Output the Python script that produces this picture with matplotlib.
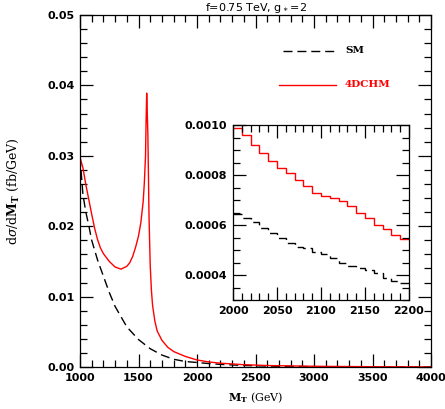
import numpy as np
import matplotlib.pyplot as plt
from matplotlib.ticker import MultipleLocator

plt.rcParams['mathtext.fontset'] = 'dejavuserif'

# main panel (GeV, fb/GeV)
mt_sm = [1000, 1025, 1050, 1075, 1100, 1150, 1200, 1250, 1300, 1400, 1500,
         1600, 1700, 1800, 1900, 2000, 2100, 2200, 2400, 2600, 3000, 3500, 4000]
xs_sm = [0.0298, 0.0245, 0.0220, 0.0201, 0.0180, 0.0152, 0.0129, 0.0106, 0.0086,
         0.0057, 0.0039, 0.0026, 0.0017, 0.0011, 0.00078, 0.00064, 0.00049,
         0.00037, 0.00022, 0.00013, 0.00005, 0.00001, 0.0]

mt_4d = [1000, 1025, 1050, 1075, 1100, 1125, 1150, 1175, 1200, 1250, 1300, 1350,
         1400, 1425, 1450, 1475, 1500, 1520, 1540, 1550, 1560, 1565, 1570, 1580,
         1590, 1600, 1610, 1620, 1640, 1660, 1700, 1750, 1800, 1900, 2000, 2100,
         2200, 2400, 2600, 3000, 3500, 4000]
xs_4d = [0.0298, 0.0283, 0.0259, 0.0238, 0.0217, 0.0197, 0.0181, 0.0169, 0.0161,
         0.0150, 0.0142, 0.0139, 0.0143, 0.0148, 0.0157, 0.0170, 0.0186, 0.0205,
         0.0235, 0.0262, 0.0300, 0.0350, 0.0389, 0.0332, 0.0213, 0.0145, 0.0110,
         0.0088, 0.0065, 0.0051, 0.0038, 0.0028, 0.0022, 0.0015, 0.0010, 0.00072,
         0.00054, 0.00033, 0.00021, 0.0001, 0.00004, 0.00001]

# inset, 10 GeV bins
edges = np.arange(2000, 2201, 10)
h_4d = [0.00099, 0.00096, 0.00092, 0.00089, 0.000857, 0.00083, 0.000807, 0.000779,
        0.000756, 0.00073, 0.000716, 0.000707, 0.000696, 0.000676, 0.00065,
        0.000627, 0.0006, 0.000583, 0.00056, 0.000543]
h_sm = [0.000643, 0.000627, 0.000613, 0.000587, 0.00057, 0.00055, 0.000527,
        0.000513, 0.000507, 0.000493, 0.000484, 0.000467, 0.000447, 0.000437,
        0.000427, 0.00042, 0.000407, 0.000387, 0.000376, 0.00037]

dash = (6.5, 3.5)

def style(ax, xmaj, xmin, ymaj, ymin, yfmt):
    ax.xaxis.set_major_locator(MultipleLocator(xmaj))
    ax.xaxis.set_minor_locator(MultipleLocator(xmin))
    ax.yaxis.set_major_locator(MultipleLocator(ymaj))
    ax.yaxis.set_minor_locator(MultipleLocator(ymin))
    ax.yaxis.set_major_formatter(plt.FormatStrFormatter(yfmt))
    ax.tick_params(which='both', direction='in', top=True, right=True, width=0.9)
    ax.tick_params(which='major', length=9.5, pad=4)
    ax.tick_params(which='minor', length=5)
    for lab in ax.get_xticklabels() + ax.get_yticklabels():
        lab.set_fontsize(8)
        lab.set_fontweight('bold')
    for s in ax.spines.values():
        s.set_linewidth(0.9)

fig = plt.figure(figsize=(4.45, 4.09), dpi=100)
ax = fig.add_axes([80/445, 1-367/409, 351/445, 352/409])
ax.plot(mt_sm, xs_sm, color='black', lw=1.0, dashes=dash)
ax.plot(mt_4d, xs_4d, color='red', lw=1.0)
ax.set_xlim(1000, 4000)
ax.set_ylim(0, 0.05)
style(ax, 500, 100, 0.01, 0.002, '%.2f')
ax.set_xlabel(r'$\mathbf{M_T}$ (GeV)', family='DejaVu Serif', fontsize=8, labelpad=6)
ax.set_ylabel(r'd$\sigma$/d$\mathbf{M_T}$ (fb/GeV)', family='DejaVu Serif', fontsize=9, labelpad=19)
ax.set_title(r'f=0.75 TeV, g$_\ast$=2', fontsize=8, pad=3)

# legend drawn by hand
ax.plot([2735, 3205], [0.0449, 0.0449], color='black', lw=1.0, dashes=dash)
ax.text(3265, 0.0449, 'SM', family='DejaVu Serif', fontweight='bold', fontsize=7.5, va='center')
ax.plot([2700, 3190], [0.0401, 0.0401], color='red', lw=1.0)
ax.text(3265, 0.0401, '4DCHM', family='DejaVu Serif', fontweight='bold', fontsize=7.5,
        va='center', color='red')

ins = fig.add_axes([233/445, 1-300/409, 176/445, 175/409])
ins.stairs(h_4d, edges, color='red', lw=1.0, baseline=None)
ins.stairs(h_sm, edges, color='black', lw=1.0, baseline=None, linestyle=(0, dash))
ins.set_xlim(2000, 2200)
ins.set_ylim(0.0003, 0.0010)
style(ins, 50, 10, 0.0002, 0.00005, '%.4f')

fig.savefig('out.png', dpi=100)
